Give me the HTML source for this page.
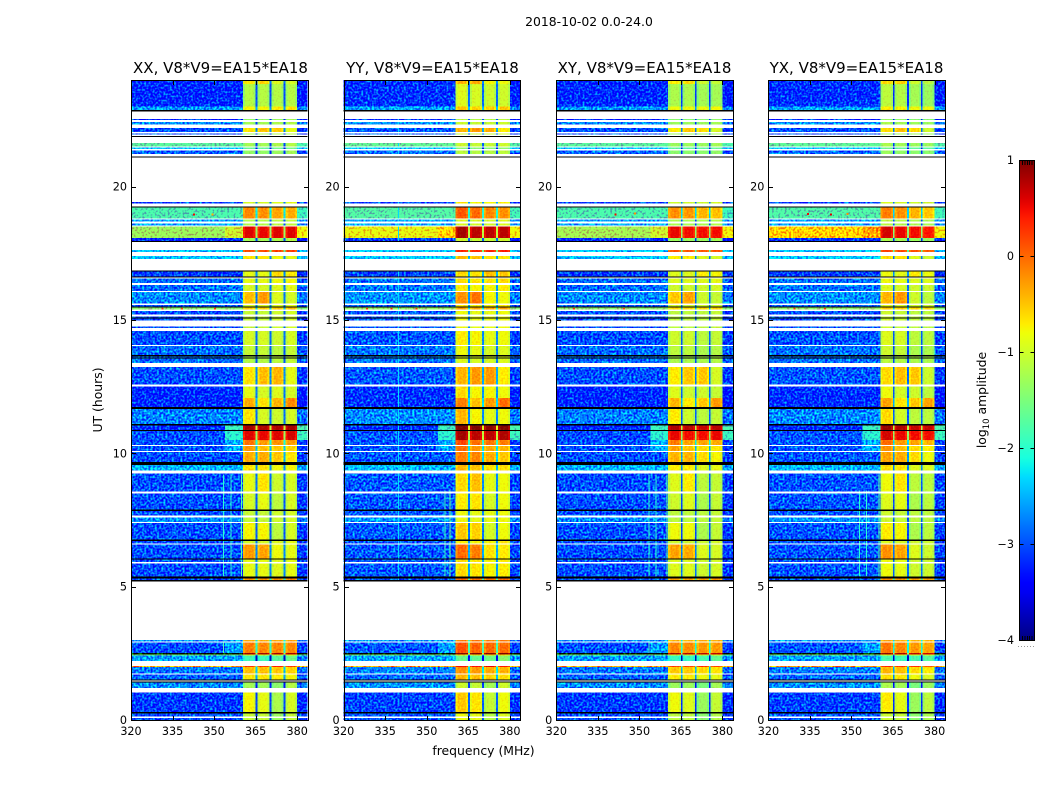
<!DOCTYPE html>
<html>
<head>
<meta charset="utf-8">
<title>2018-10-02 spectrogram</title>
<style>
  html, body { margin: 0; padding: 0; background: #fff; }
  svg { display: block; }
  text { font-family: "DejaVu Sans", "Liberation Sans", sans-serif; fill: #000; }
</style>
</head>
<body>
<svg id="figure" xmlns="http://www.w3.org/2000/svg" width="1050" height="800" viewBox="0 0 1050 800">
  <defs>
    <filter id="bgSpeckle" x="-5%" y="-5%" width="110%" height="110%" color-interpolation-filters="sRGB">
      <feTurbulence type="fractalNoise" baseFrequency="0.47" numOctaves="1" seed="4" result="n"/>
      <feColorMatrix in="n" type="matrix" values="0 0 0 0 0.4  2.2 0 0 0 -0.7  0 0 0 0 0.4  0 0 0 0 1" result="m"/>
      <feComposite in="SourceGraphic" in2="m" operator="arithmetic" k1="0" k2="1" k3="1" k4="-0.4" result="c"/>
      <feComposite in="c" in2="SourceGraphic" operator="in"/>
    </filter>
    <filter id="chanSpeckle" x="-5%" y="-5%" width="110%" height="110%" color-interpolation-filters="sRGB">
      <feTurbulence type="fractalNoise" baseFrequency="0.55" numOctaves="1" seed="9" result="n"/>
      <feColorMatrix in="n" type="matrix" values="0 0 0 0 0.4  0.5 0 0 0 0.15  0 0 0 0 0.4  0 0 0 0 1" result="m"/>
      <feComposite in="SourceGraphic" in2="m" operator="arithmetic" k1="0" k2="1" k3="1" k4="-0.4" result="c"/>
      <feComposite in="c" in2="SourceGraphic" operator="in"/>
    </filter>
    <linearGradient id="jetGradient" x1="0" y1="1" x2="0" y2="0"></linearGradient>
  </defs>

  <text x="589" y="26" font-size="12.4" text-anchor="middle">2018-10-02 0.0-24.0</text>

  <g id="panels"></g>

  <text x="220.5" y="73" font-size="15" text-anchor="middle">XX, V8*V9=EA15*EA18</text>
  <text x="432.5" y="73" font-size="15" text-anchor="middle">YY, V8*V9=EA15*EA18</text>
  <text x="644.5" y="73" font-size="15" text-anchor="middle">XY, V8*V9=EA15*EA18</text>
  <text x="856.5" y="73" font-size="15" text-anchor="middle">YX, V8*V9=EA15*EA18</text>

  <text transform="translate(102 400) rotate(-90)" font-size="12.4" text-anchor="middle">UT (hours)</text>
  <text x="483.5" y="755" font-size="12.4" text-anchor="middle">frequency (MHz)</text>

  <g id="colorbar"></g>
  <text transform="translate(986 400) rotate(-90)" font-size="12.4" text-anchor="middle">log<tspan font-size="8.5" dy="3">10</tspan><tspan dy="-3"> amplitude</tspan></text>
  <line x1="1018" y1="646.5" x2="1035" y2="646.5" stroke="#999" stroke-width="1" stroke-dasharray="1 2"/>
</svg>

<script>
// ---- axes ----
const xTickValues = [320, 335, 350, 365, 380];
const yTickValues = [0, 5, 10, 15, 20];
const colorTickValues = [-4, -3, -2, -1, 0, 1];
const polarisations = ["xx", "yy", "xy", "yx"];

// ---- time bands (UT hour each band starts) and log10 amplitude of XX ----
const bandStartUT = [0,.3,1.2,1.52,1.75,1.99,2.21,2.41,2.45,2.52,2.94,
  5.25,5.39,6.06,6.62,6.76,7.42,7.66,7.89,8.56,9.36,
  9.675,10.09,10.31,10.5,10.875,11.1,11.73,12.08,12.59,
  13.38,13.68,14.06,14.7,15.4,15.5,15.625,16.09,16.39,16.63,
  17.29,17.55,17.97,18.08,18.55,18.81,19.25,
  21.23,21.41,21.5,21.86,22.05,22.34,22.5,22.875,23,23.85];
const backgroundLevel = [-3,-3.1,-2.7,-2.9,-2.8,-.3,-2.6,-1.5,-9,-3,-2.7,
  -3,-3,-3,-3,-3,-2.7,-3,-3,-3,-2.5,
  -3,-3,-3,-3,-3.2,-2.75,-3.2,-3.2,-3,
  -2.85,-2.85,-3,-3,-1.4,-3,-2.7,-2.85,-2.85,-3.1,
  -2.4,-2.4,-3.2,-1.3,-2.6,-1.8,-3.1,
  -2.9,-2.4,-1.7,-3,-3,-2.7,-3.2,-2.6,-3.2,-3.2];
const channelA = [-1.1,-.8,-1.3,-.7,-.5,.2,-1.9,-.9,.85,-.15,-.4,
  -.3,-.9,-.3,-1,-.8,-1.1,-1.1,-1,-.9,-.7,
  -.4,-.3,-.1,.55,.8,-.7,-.4,-.9,-.7,
  -1.2,-1.1,-1,-1.1,-.6,-1,-.5,-1,-.9,-.9,
  -.7,.1,-1.3,.55,-1.2,-.2,-1,
  -1.4,-1.7,-1.3,-1.3,-.7,-1.3,-1.4,-.8,-1.2,-.7];
const channelB = [-1.1,-.9,-1.3,-.7,-.5,.2,-1.9,-.9,.8,-.2,-.4,
  -.3,-.9,-.35,-1,-.8,-1.1,-1.1,-.9,-.7,-.7,
  -.4,-.5,-.3,.5,.75,-1,-.7,-1,-.5,
  -1.2,-1.1,-1,-1.1,-.6,-1,-.3,-1,-.9,-.9,
  -.7,.1,-1.3,.5,-1.2,-.25,-1,
  -1.4,-1.7,-1.3,-1.3,-.5,-1.3,-1.4,-.8,-1.2,-.6];
const channelC = [-1.4,-1.3,-1.5,-.8,-.6,.3,-1.8,-.9,.75,-.25,-.4,
  -.3,-1,-.9,-1,-1.2,-1.1,-1.1,-1.2,-1.1,-.9,
  -.6,-.6,-.3,.5,.7,-1.1,-.5,-1,-.5,
  -1.2,-1.2,-1.1,-1.1,-.6,-1,-1,-1,-.9,-.7,
  -.9,.1,-1.3,.5,-1.2,-.4,-1,
  -1.4,-1.7,-1.3,-1.3,-.6,-1.3,-1.4,-.8,-1.25,-1];
const channelD = [-1.2,-1.1,-1.3,-.9,-.7,.1,-1.7,-.9,.7,-.3,-.4,
  -.3,-1,-1,-1,-1.1,-1.1,-1.1,-1.1,-1.1,-.9,
  -.8,-.7,-.4,.5,.7,-1.1,-.3,-1.1,-1,
  -1.2,-1.2,-1.1,-1.1,-.6,-1,-1.1,-1,-.9,-.8,
  -1,.1,-1.3,.45,-1.2,-.5,-1,
  -1.4,-1.7,-1.3,-1.3,-1,-1.3,-1.4,-.8,-1.3,-1.1];

// ---- per-polarisation differences from XX ----
const channelOffsetXX = [.05, .05, .1, .15];
const channelOffsetYY = [.3, .25, .25, .3];
const channelOffsetXY = [0, 0, 0, .05];
const channelOffsetYX = [.1, .05, 0, 0];
const backgroundOffset = [0, .05, 0, .03];
const brightBandStartUT = 18.08;
const brightBandBackground = [-1.3, -.9, -1.25, -.6];

// ---- sparse extras: [band start UT, level] ----
const tailLevels = [[2.52,-2.6],[10.09,-2.5],[10.31,-2.5],[10.5,-2],[10.875,-1.9],[18.08,-1]];
const upperEdgeLevels = [[10.5,-1.9],[10.875,-1.8],[18.08,-.8]];

// ---- flagged time ranges, in UT hours ----
const gapRangesUT = [[.075,.124],[1.024,1.2],[1.444,1.48],[1.7,1.75],[2.025,2.21],[2.9,2.94],[3,5.2],
  [5.876,5.925],[6.575,6.625],[7.385,7.425],[7.59,7.665],[8.5,8.56],[9.25,9.36],[10.05,10.09],[10.275,10.31],
  [12.5,12.59],[13.24,13.38],[14.03,14.06],[14.58,14.7],[14.75,14.975],[15.125,15.2],[15.34,15.4],[15.56,15.625],
  [16.05,16.09],[16.32,16.39],[16.56,16.59],[16.85,17.29],[17.4,17.55],[17.625,17.94],[18.5,18.55],[18.61,18.7],
  [18.76,18.81],[19.25,19.375],[19.425,21.09],[21.13,21.23],[21.35,21.41],[21.46,21.5],[21.64,21.86],[21.9,21.95],
  [21.99,22.05],[22.2,22.34],[22.43,22.5],[22.54,22.82]];
const blackRangesUT = [[.236,.3],[1.4,1.444],[1.48,1.52],[5.2,5.25],[5.3,5.39],[6.01,6.06],[6.71,6.76],[7.84,7.89],
  [9.56,9.675],[10.84,10.875],[11.04,11.1],[11.66,11.73],[13.55,13.59],[13.64,13.68],[15.05,15.09],[15.47,15.5],
  [16.59,16.63],[16.81,16.85],[17.94,17.97],[19.21,19.25],[21.09,21.13],[21.86,21.9],[22.82,22.875]];

// ---- narrow interference: [panel, MHz, UT start, UT end, level] ----
const rfiLines = [
  [0,353.3,5.4,9.2,-2],[0,355.9,5.4,9.2,-2],[0,359.7,5.4,9.2,-1.7],[0,353.3,2.52,2.95,-1.8],
  [1,339.7,5.25,23,-2.3],[1,356.4,5.4,8.6,-1.9],[1,358.3,5.4,8.6,-1.6],
  [2,353.2,5.4,9.2,-2],[2,355.9,5.4,9.2,-2],[2,359.7,5.4,9.2,-1.7],[2,353.2,2.52,2.95,-1.8],
  [3,352.7,5.4,8.6,-2],[3,355.2,5.4,8.6,-2],[3,359.7,5.4,9.2,-1.7]
];
// ---- isolated hot pixels: [panel, MHz, UT, level] ----
const hotPixels = [
  [0,342.4,18.95,.5],[0,349,18.95,-.4],[0,331,15.42,.3],[0,338,15.42,.2],[0,350,15.42,.3],
  [1,328,15.42,.3],[1,337,15.42,.4],[1,346,15.42,.3],
  [2,341,18.95,.5],[2,348,19,-.2],[2,326,15.42,.3],[2,344,15.42,.2],
  [3,333.9,18.97,.5],[3,342.2,18.95,.6],[3,348.2,18.97,-.2],[3,329,15.42,.3],[3,340,15.42,.3]
];

// ---- channel geometry in MHz ----
const channelLowEdge = [360.4, 365.6, 370.7, 375.7];
const channelHighEdge = [365, 370, 375.1, 380];
const channelProfile = [-.2, 0, 0, 0, 0, -.18];

const SVG_NS = "http://www.w3.org/2000/svg";
const panelLeft = [131, 343.6, 556.3, 768.4];
const panelWidth = 176.7, panelTop = 80, panelBottom = 720;
const freqMin = 320, freqMax = 383.8, utMin = 0, utMax = 24;
const colorMin = -4, colorMax = 1;
const barX = 1019, barWidth = 15, barTop = 160, barBottom = 640;
const polChannelOffsets = [channelOffsetXX, channelOffsetYY, channelOffsetXY, channelOffsetYX];
const channelColumns = [channelA, channelB, channelC, channelD];

function xScale(panel, f) { return panelLeft[panel] + (f - freqMin) / (freqMax - freqMin) * panelWidth; }
function yScale(u) { return panelBottom - (u - utMin) / (utMax - utMin) * (panelBottom - panelTop); }
function colorY(v) { return barBottom - (v - colorMin) / (colorMax - colorMin) * (barBottom - barTop); }

function jet(v) {
  if (v < colorMin - 1) return "#000";
  const n = Math.max(0, Math.min(1, (v - colorMin) / (colorMax - colorMin)));
  const ramp = (x, pts) => {
    for (let i = 1; i < pts.length; i++) {
      if (x <= pts[i][0]) {
        const a = pts[i - 1], b = pts[i];
        return a[1] + (b[1] - a[1]) * (x - a[0]) / (b[0] - a[0]);
      }
    }
    return pts[pts.length - 1][1];
  };
  const r = ramp(n, [[0,0],[.35,0],[.66,1],[.89,1],[1,.5]]);
  const g = ramp(n, [[0,0],[.125,0],[.375,1],[.64,1],[.91,0],[1,0]]);
  const b = ramp(n, [[0,.5],[.11,1],[.34,1],[.65,0],[1,0]]);
  return "rgb(" + Math.round(r * 255) + "," + Math.round(g * 255) + "," + Math.round(b * 255) + ")";
}

function lookup(table, key) {
  for (const row of table) if (row[0] === key) return row[1];
  return null;
}

function makeRect(parent, x, y, w, h, fill) {
  const el = document.createElementNS(SVG_NS, "rect");
  el.setAttribute("x", x.toFixed(2));
  el.setAttribute("y", y.toFixed(2));
  el.setAttribute("width", Math.max(w, 1).toFixed(2));
  el.setAttribute("height", Math.max(h, 1).toFixed(2));
  el.setAttribute("fill", fill);
  el.setAttribute("shape-rendering", "crispEdges");
  parent.appendChild(el);
  return el;
}

function makeLine(parent, x1, y1, x2, y2) {
  const el = document.createElementNS(SVG_NS, "line");
  el.setAttribute("x1", x1);
  el.setAttribute("y1", y1);
  el.setAttribute("x2", x2);
  el.setAttribute("y2", y2);
  el.setAttribute("stroke", "#000");
  el.setAttribute("stroke-width", "1");
  el.setAttribute("shape-rendering", "crispEdges");
  parent.appendChild(el);
  return el;
}

function makeText(parent, x, y, anchor, str) {
  const el = document.createElementNS(SVG_NS, "text");
  el.setAttribute("x", x);
  el.setAttribute("y", y);
  el.setAttribute("font-size", "11.2");
  el.setAttribute("text-anchor", anchor);
  el.textContent = str;
  parent.appendChild(el);
  return el;
}

function drawPanel(p) {
  const root = document.getElementById("panels");
  const group = document.createElementNS(SVG_NS, "g");
  
  
  root.appendChild(group);

  const bgLayer = document.createElementNS(SVG_NS, "g");
  
  
  bgLayer.setAttribute("filter", "url(#bgSpeckle)");
  group.appendChild(bgLayer);

  const chLayer = document.createElementNS(SVG_NS, "g");
  
  
  chLayer.setAttribute("filter", "url(#chanSpeckle)");
  group.appendChild(chLayer);

  const overlay = document.createElementNS(SVG_NS, "g");
  
  
  group.appendChild(overlay);

  const tailStart = 354;
  bandStartUT.forEach((start, i) => {
    const end = i + 1 < bandStartUT.length ? bandStartUT[i + 1] : utMax;
    const y = yScale(end), h = yScale(start) - y;
    const isBright = start === brightBandStartUT;
    let bg = isBright ? brightBandBackground[p] : backgroundLevel[i];
    if (bg > -9) bg += backgroundOffset[p];

    const tailValue = lookup(tailLevels, start);
    const tail = tailValue === null ? bg : Math.max(tailValue, isBright ? bg + .25 : tailValue);
    const upperValue = lookup(upperEdgeLevels, start);
    const upper = upperValue === null ? (bg > -9 ? bg - .1 : bg) : upperValue;

    const main = makeRect(bgLayer, xScale(p, freqMin), y, xScale(p, tailStart) - xScale(p, freqMin), h, jet(bg));
    
    

    const tailCell = makeRect(bgLayer, xScale(p, tailStart), y, xScale(p, channelLowEdge[0]) - xScale(p, tailStart), h, jet(tail));
    
    

    const upperCell = makeRect(bgLayer, xScale(p, channelHighEdge[3]), y, xScale(p, freqMax) - xScale(p, channelHighEdge[3]), h, jet(upper));
    
    

    const levels = channelColumns.map((col, c) => col[i] + polChannelOffsets[p][c]);
    const slotLevel = Math.min(levels[0], levels[1], levels[2], levels[3]) - 1.85;

    levels.forEach((level, c) => {
      const lo = channelLowEdge[c], hi = channelHighEdge[c];
      const step = (hi - lo) / channelProfile.length;
      channelProfile.forEach((delta, k) => {
        const cx = xScale(p, lo + k * step);
        const cell = makeRect(chLayer, cx, y, xScale(p, lo + (k + 1) * step) - cx, h, jet(level + delta));
        
        
      });
      const slotLow = hi;
      const slotHigh = c < 3 ? channelLowEdge[c + 1] : hi;
      if (c < 3) {
        const slot = makeRect(chLayer, xScale(p, slotLow), y, xScale(p, slotHigh) - xScale(p, slotLow), h, jet(slotLevel));
        
        
      }
    });
  });

  rfiLines.filter(r => r[0] === p).forEach(r => {
    const x = xScale(p, r[1]);
    const line = makeRect(overlay, x, yScale(r[3]), 1, yScale(r[2]) - yScale(r[3]), jet(r[4]));
    
    
  });

  hotPixels.filter(r => r[0] === p).forEach(r => {
    const px = makeRect(overlay, xScale(p, r[1]), yScale(r[2]) - 1, 2, 2, jet(r[3]));
    
    
  });

  gapRangesUT.forEach(g => {
    const gap = makeRect(overlay, xScale(p, freqMin), yScale(g[1]), xScale(p, freqMax) - xScale(p, freqMin), yScale(g[0]) - yScale(g[1]), "#fff");
    
    
  });

  blackRangesUT.forEach(g => {
    const bar = makeRect(overlay, xScale(p, freqMin), yScale(g[1]), xScale(p, freqMax) - xScale(p, freqMin), yScale(g[0]) - yScale(g[1]), "#000");
    
    
  });

  const left = Math.round(panelLeft[p]) + .5;
  const right = Math.round(panelLeft[p] + panelWidth) + .5;

  const frame = document.createElementNS(SVG_NS, "rect");
  frame.setAttribute("x", left);
  frame.setAttribute("y", panelTop + .5);
  frame.setAttribute("width", right - left);
  frame.setAttribute("height", panelBottom - panelTop);
  frame.setAttribute("fill", "none");
  frame.setAttribute("stroke", "#000");
  frame.setAttribute("shape-rendering", "crispEdges");
  
  
  group.appendChild(frame);

  xTickValues.forEach(v => {
    const x = Math.round(xScale(p, v)) + .5;
    const bottomTick = makeLine(group, x, panelBottom + .5, x, panelBottom - 4);
    
    
    const topTick = makeLine(group, x, panelTop + .5, x, panelTop + 5);
    
    
    const label = makeText(group, xScale(p, v), 735, "middle", String(v));
    
    
  });

  yTickValues.forEach(v => {
    const y = Math.round(yScale(v)) + .5;
    const leftTick = makeLine(group, left, y, left + 4.5, y);
    
    
    const rightTick = makeLine(group, right, y, right - 4.5, y);
    
    
    const label = makeText(group, panelLeft[p] - 4, yScale(v) + 4, "end", String(v));
    
    
  });
}

function drawColorbar() {
  const gradient = document.getElementById("jetGradient");
  for (let s = 0; s <= 50; s++) {
    const stop = document.createElementNS(SVG_NS, "stop");
    stop.setAttribute("offset", (s / 50).toFixed(3));
    stop.setAttribute("stop-color", jet(colorMin + (colorMax - colorMin) * s / 50));
    gradient.appendChild(stop);
  }
  const group = document.getElementById("colorbar");
  const bar = document.createElementNS(SVG_NS, "rect");
  bar.setAttribute("x", barX + .5);
  bar.setAttribute("y", barTop + .5);
  bar.setAttribute("width", barWidth);
  bar.setAttribute("height", barBottom - barTop);
  bar.setAttribute("fill", "url(#jetGradient)");
  bar.setAttribute("stroke", "#000");
  bar.setAttribute("shape-rendering", "crispEdges");
  
  
  group.appendChild(bar);

  colorTickValues.forEach(v => {
    const y = Math.round(colorY(v)) + .5;
    const tickL = makeLine(group, barX + .5, y, barX + 4.5, y);
    
    
    const tickR = makeLine(group, barX + barWidth + .5, y, barX + barWidth - 3.5, y);
    
    
    const label = makeText(group, barX - 5, colorY(v) + 4, "end", v < 0 ? "\u2212" + Math.abs(v) : String(v));
    
    
  });

  for (let t = 0; t < 5; t++) {
    const x = barX + 3.5 + t * 2.4;
    const top = makeLine(group, x, barTop + .5, x, barTop + 5);
    
    
    const bottom = makeLine(group, x, barBottom + .5, x, barBottom - 4);
    
    
  }
}

polarisations.forEach((_, p) => drawPanel(p));
drawColorbar();
</script>
</body>
</html>
